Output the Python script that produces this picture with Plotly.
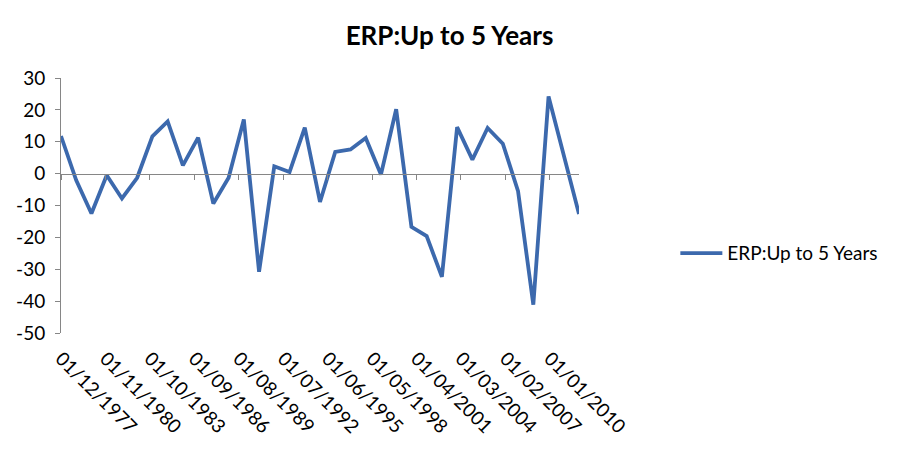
import plotly.graph_objects as go

dates = [f"{y}-12-01" for y in range(1977, 2012)]
values = [11.8, -2.1, -12.5, -0.5, -7.8, -1.3, 11.7, 16.4, 2.6, 11.3,
          -9.4, -1.3, 17.0, -30.8, 2.3, 0.5, 14.4, -8.9, 6.8, 7.6,
          11.2, -0.3, 20.2, -16.7, -19.6, -32.4, 14.6, 4.4, 14.3, 9.4,
          -5.5, -41.1, 24.2, 5.8, -12.7]
series_name = "ERP:Up to 5 Years"
x_tick_dates = ["1977-12-01", "1980-11-01", "1983-10-01", "1986-09-01",
                "1989-08-01", "1992-07-01", "1995-06-01", "1998-05-01",
                "2001-04-01", "2004-03-01", "2007-02-01", "2010-01-01"]
x_tick_labels = ["01/12/1977", "01/11/1980", "01/10/1983", "01/09/1986",
                 "01/08/1989", "01/07/1992", "01/06/1995", "01/05/1998",
                 "01/04/2001", "01/03/2004", "01/02/2007", "01/01/2010"]
y_tick_vals = [30, 20, 10, 0, -10, -20, -30, -40, -50]
y_tick_labels = ["30", "20", "10", "0", "-10", "-20", "-30", "-40", "-50"]

FONT = "Lato"
AXIS_COLOR = "#868686"
LINE_COLOR = "#3C69AD"

fig = go.Figure()
fig.add_trace(go.Scatter(x=dates, y=values, mode="lines", name=series_name,
                         line=dict(color=LINE_COLOR, width=3.8)))
# invisible trace for the zero-crossing axis with tick marks
fig.add_trace(go.Scatter(x=[dates[0]], y=[0], xaxis="x2", mode="lines",
                         showlegend=False, hoverinfo="skip",
                         line=dict(color="rgba(0,0,0,0)")))

fig.update_layout(
    width=899, height=450,
    margin=dict(l=61, r=320, t=78, b=117),
    paper_bgcolor="white", plot_bgcolor="white",
    font=dict(family=FONT, color="#000000", size=19),
    title=dict(text="<b>ERP:Up to 5 Years</b>", x=0.5, xanchor="center",
               y=0.92, yanchor="middle", font=dict(size=26, family=FONT)),
    showlegend=True,
    legend=dict(x=1.186, xanchor="left", y=0.313, yanchor="middle",
                font=dict(size=19, family=FONT), bgcolor="rgba(0,0,0,0)",
                itemwidth=42),
    xaxis=dict(type="date", range=[dates[0], dates[-1]],
               tickvals=x_tick_dates, ticktext=x_tick_labels, tickangle=45,
               showline=False, ticks="outside", ticklen=6,
               tickcolor="rgba(0,0,0,0)", showgrid=False, zeroline=False,
               tickfont=dict(size=19, family=FONT)),
    xaxis2=dict(type="date", overlaying="x", matches="x", anchor="free",
                position=0.625, side="bottom", tickvals=x_tick_dates,
                showticklabels=False, showline=True, linecolor=AXIS_COLOR,
                linewidth=1, ticks="outside", ticklen=5, tickcolor=AXIS_COLOR,
                showgrid=False, zeroline=False),
    yaxis=dict(range=[-50, 30], tickvals=y_tick_vals, ticktext=y_tick_labels,
               showline=True, linecolor=AXIS_COLOR, linewidth=1,
               ticks="outside", ticklen=5, tickcolor=AXIS_COLOR,
               ticklabelstandoff=6,
               showgrid=False, zeroline=False,
               tickfont=dict(size=19, family=FONT)),
)

fig.write_html("out.html")
